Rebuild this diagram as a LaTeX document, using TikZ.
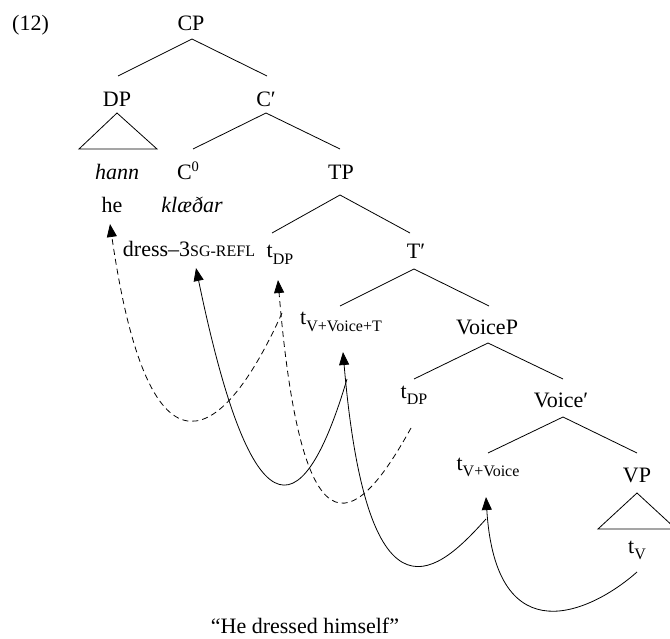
\documentclass[tikz,border=0pt]{standalone}
\usepackage{fontspec}
\setmainfont{Liberation Serif}
\usetikzlibrary{arrows.meta}

\newcommand\treefont{\fontsize{22}{26}\selectfont}
\newcommand\lowsub[1]{\raisebox{-6.5pt}{\fontsize{16}{16}\selectfont #1}}
\newcommand\highsup[1]{\raisebox{8pt}{\fontsize{14.5}{14.5}\selectfont #1}}
\newcommand\glsc[1]{{\fontsize{16}{16}\selectfont #1}}

\begin{document}
\begin{tikzpicture}[%
      x=1pt, y=-1pt,
      cat/.style={anchor=base, inner sep=0pt, font=\treefont},
      branch/.style={line width=0.8pt},
      trace/.style={line width=0.8pt, -{Triangle[length=13pt,width=10pt]}},
      hidden/.style={trace, dash pattern=on 6pt off 4pt},
      ]
      \useasboundingbox (0,0) rectangle (670,639);
      \clip (0,0) rectangle (670,639);

      % labels
      \node[cat, anchor=base west] (ex) at (12,31) {(12)};
      \node[cat] (CP) at (191,31) {CP};
      \node[cat] (DP) at (117,107) {DP};
      \node[cat] (Cbar) at (266,107) {C′};
      \node[cat] (hann) at (117,180) {\itshape hann};
      \node[cat] (C0) at (188,180) {C\highsup{0}};
      \node[cat] (TP) at (341,180) {TP};
      \node[cat] (he) at (112,213) {he};
      \node[cat] (klaedar) at (192,213) {\itshape klæðar};
      \node[cat] (dress) at (189,257) {dress–3\glsc{SG-REFL}};
      \node[cat] (tdpa) at (280,258) {t\lowsub{DP}};
      \node[cat] (Tbar) at (416,259) {T′};
      \node[cat] (tvvt) at (341,325) {t\lowsub{V+Voice+T}};
      \node[cat] (VoiceP) at (487,335) {VoiceP};
      \node[cat] (tdpb) at (414,398) {t\lowsub{DP}};
      \node[cat] (Voicebar) at (561,407) {Voice′};
      \node[cat] (tvv) at (488,470) {t\lowsub{V+Voice}};
      \node[cat] (VP) at (637,482) {VP};
      \node[cat] (tv) at (637,553) {t\lowsub{V}};
      \node[cat] (gloss) at (305,633) {“He dressed himself”};

      % branches
      \draw[branch] ([shift={(1,8)}]CP.base) -- ([shift={(1,-31)}]DP.base);
      \draw[branch] ([shift={(1,8)}]CP.base) -- ([shift={(1,-31)}]Cbar.base);
      \draw[branch] ([shift={(0,6)}]Cbar.base) -- ([shift={(5,-31)}]C0.base);
      \draw[branch] ([shift={(0,6)}]Cbar.base) -- ([shift={(-1,-31)}]TP.base);
      \draw[branch] ([shift={(-1,15)}]TP.base) -- ([shift={(-8,-25)}]tdpa.base);
      \draw[branch] ([shift={(-1,15)}]TP.base) -- ([shift={(-6,-26)}]Tbar.base);
      \draw[branch] ([shift={(-2,10)}]Tbar.base) -- ([shift={(-1,-19)}]tvvt.base);
      \draw[branch] ([shift={(-2,10)}]Tbar.base) -- ([shift={(2,-29)}]VoiceP.base);
      \draw[branch] ([shift={(1,8)}]VoiceP.base) -- ([shift={(0,-19)}]tdpb.base);
      \draw[branch] ([shift={(1,8)}]VoiceP.base) -- ([shift={(2,-28)}]Voicebar.base);
      \draw[branch] ([shift={(2,10)}]Voicebar.base) -- ([shift={(0,-17)}]tvv.base);
      \draw[branch] ([shift={(2,10)}]Voicebar.base) -- ([shift={(0,-29)}]VP.base);

      % triangles
      \draw[branch] ([shift={(0,6)}]DP.base) -- ([shift={(-38,42)}]DP.base)
            -- ([shift={(40,42)}]DP.base) -- cycle;
      \draw[branch] ([shift={(0,11)}]VP.base) -- ([shift={(-39,47)}]VP.base)
            -- ([shift={(39,47)}]VP.base) -- cycle;

      % movement
      \draw[hidden] ([shift={(2,55)}]tdpa.base) .. controls +(-57,127) and +(40,276) .. ([shift={(-2,11)}]he.base);
      \draw[trace] ([shift={(6,54)}]tvvt.base) .. controls +(-40,135) and +(60,290) .. ([shift={(7,11)}]dress.base);
      \draw[hidden] ([shift={(-3,30)}]tdpb.base) .. controls +(-50,90) and +(25,300) .. ([shift={(-2,22)}]tdpa.base);
      \draw[trace] ([shift={(-2,49)}]tvv.base) .. controls +(-45,50) and +(25,290) .. ([shift={(2,27)}]tvvt.base);
      \draw[trace] ([shift={(0,19)}]tv.base) .. controls +(-45,40) and +(10,160) .. ([shift={(-2,27)}]tvv.base);
\end{tikzpicture}
\end{document}
